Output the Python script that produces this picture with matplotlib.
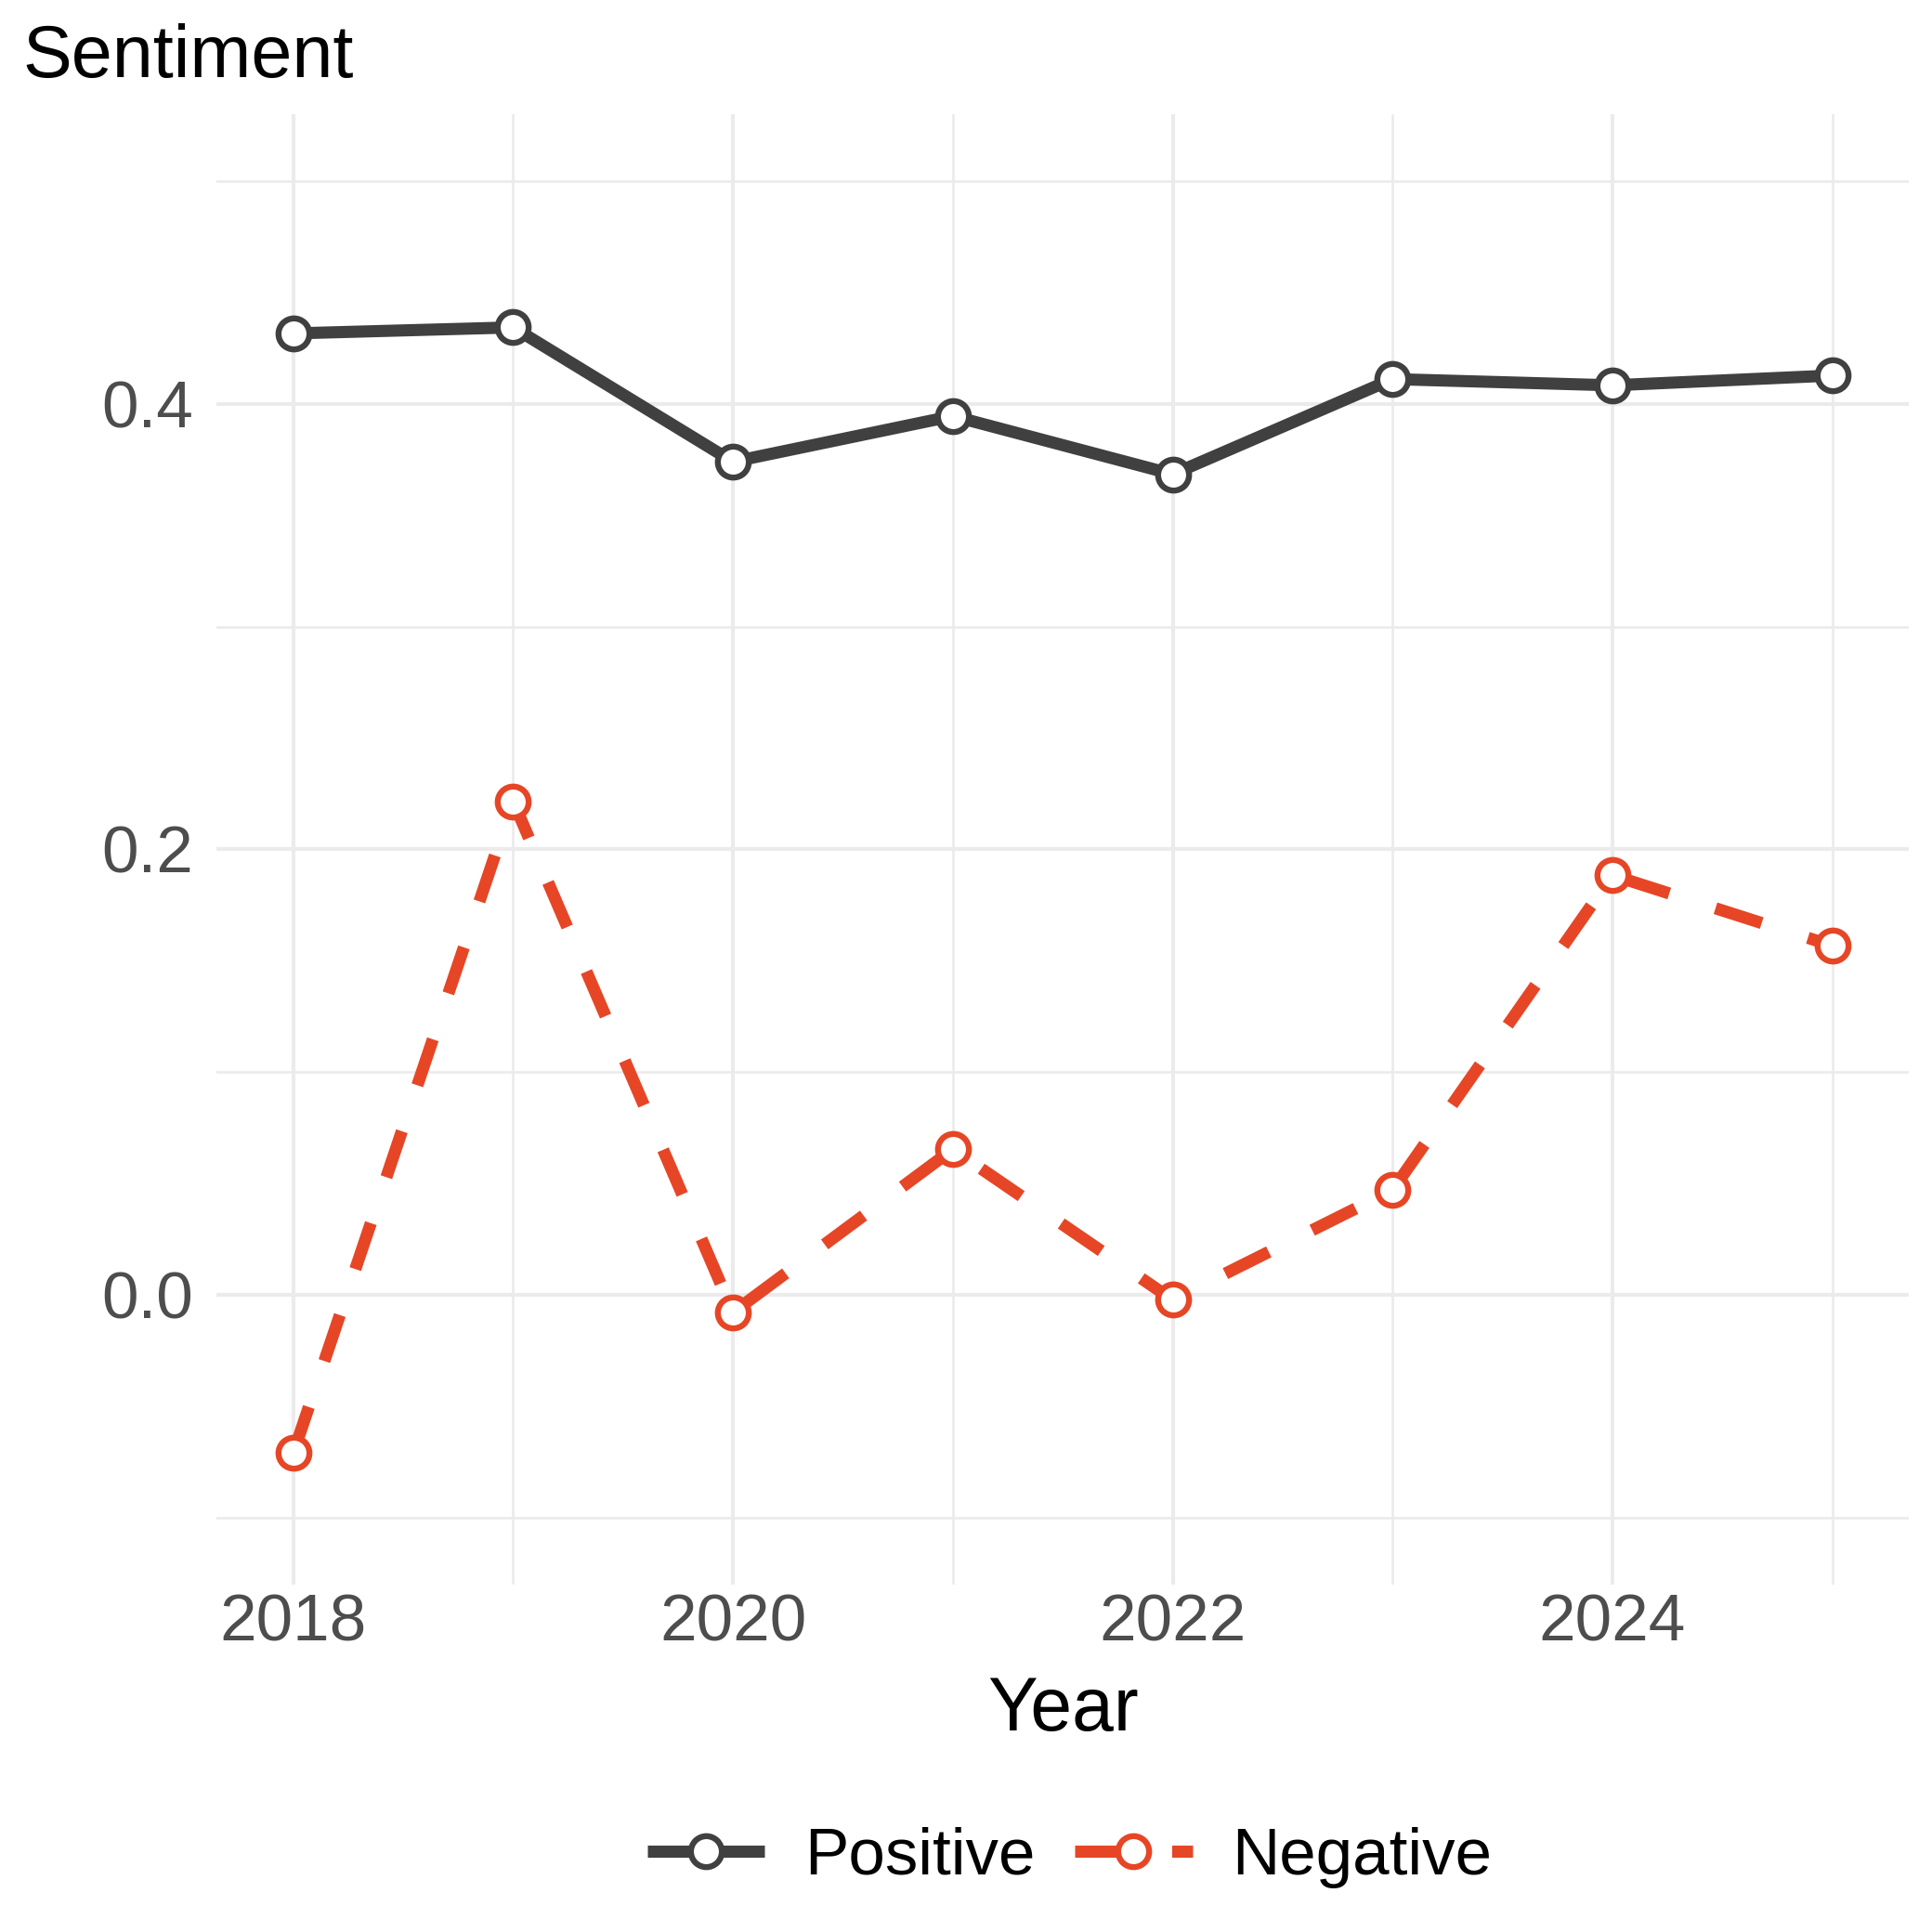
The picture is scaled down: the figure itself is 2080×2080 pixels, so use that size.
"""
Yearly sentiment scores, positive vs negative, 2018-2025.
"""

import numpy as np
import matplotlib.pyplot as plt
from matplotlib.ticker import MultipleLocator

plt.rcParams['font.family'] = ['Liberation Sans', 'DejaVu Sans']

years = [2018, 2019, 2020, 2021, 2022, 2023, 2024, 2025]
positive = [0.4316, 0.4343, 0.3740, 0.3945, 0.3684, 0.4111, 0.4083, 0.4127]
negative = [-0.0709, 0.2216, -0.0078, 0.0654, -0.0022, 0.0471, 0.1884, 0.1568]

x_ticks = [2018, 2020, 2022, 2024]
y_ticks = [0.0, 0.2, 0.4]

POS_COLOR = '#404040'
NEG_COLOR = '#E64626'
GRID_COLOR = '#EBEBEB'
TICK_COLOR = '#4D4D4D'

fig = plt.figure(figsize=(10.4, 10.4), dpi=200)
ax = fig.add_axes([0.112, 0.1798, 0.8762, 0.7611])

# expanded limits, ggplot style (5% each side)
ax.set_xlim(2018 - 0.35, 2025 + 0.35)
ax.set_ylim(-0.13, 0.53)

# grid: major + minor
ax.xaxis.set_major_locator(plt.FixedLocator(x_ticks))
ax.xaxis.set_minor_locator(MultipleLocator(1))
ax.yaxis.set_major_locator(plt.FixedLocator(y_ticks))
ax.yaxis.set_minor_locator(MultipleLocator(0.1))
ax.grid(which='major', color=GRID_COLOR, linewidth=1.45)
ax.grid(which='minor', color=GRID_COLOR, linewidth=0.95)
ax.set_axisbelow(True)

ax.plot(years, positive, color=POS_COLOR, linewidth=4.7, marker='o',
        markersize=12, markerfacecolor='white', markeredgecolor=POS_COLOR,
        markeredgewidth=2.3, label='Positive', solid_capstyle='butt')
ax.plot(years, negative, color=NEG_COLOR, linewidth=4.7, dashes=(4, 4),
        marker='o', markersize=12, markerfacecolor='white',
        markeredgecolor=NEG_COLOR, markeredgewidth=2.3, label='Negative',
        dash_capstyle='butt')

ax.set_xticklabels([str(y) for y in x_ticks])
ax.set_yticklabels([f'{v:.1f}' for v in y_ticks])
ax.tick_params(which='both', length=0)
ax.tick_params(axis='x', pad=3.5, labelsize=25.6, labelcolor=TICK_COLOR)
ax.tick_params(axis='y', pad=9, labelsize=25.6, labelcolor=TICK_COLOR)

for s in ax.spines.values():
    s.set_visible(False)

fig.text(0.0118, 0.960, 'Sentiment', fontsize=28.5, ha='left', va='baseline')
fig.text(0.5505, 0.1043, 'Year', fontsize=29, ha='center', va='baseline')

fig.legend(loc='center', bbox_to_anchor=(0.5535, 0.0385), ncol=2,
           frameon=False, fontsize=25.5, handlelength=1.79,
           handletextpad=0.6, columnspacing=0.6, borderpad=0)

fig.savefig('out.png', dpi=200)
